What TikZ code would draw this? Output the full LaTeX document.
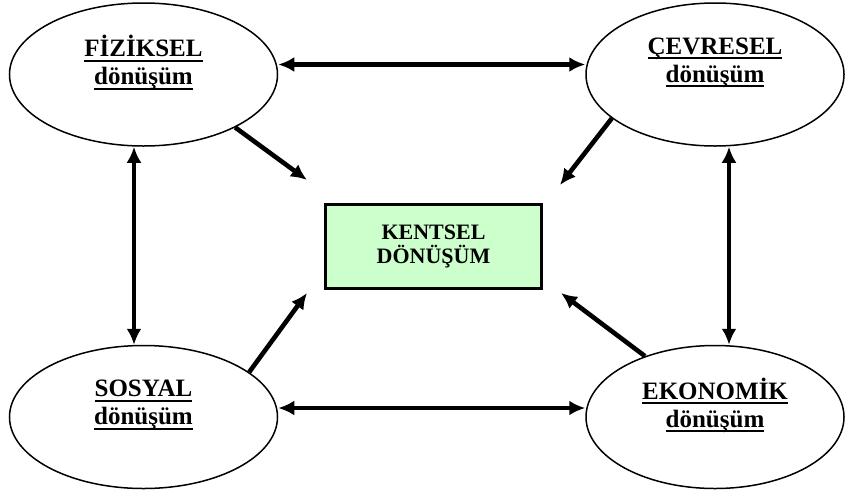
\documentclass[tikz,border=0pt]{standalone}
\usepackage{fontspec}
\setmainfont{Liberation Serif}
\usetikzlibrary{arrows.meta,shapes.geometric,positioning}
\definecolor{kentgreen}{RGB}{204,255,204}
\newcommand{\ulx}[1]{\leavevmode\setbox0\hbox{#1}\dp0=1.5pt\vtop{\box0\kern1.5pt\hrule height 1.8pt}}

\begin{document}
\begin{tikzpicture}[
	x = 1pt, y = -1pt, % pixel like coordinates
	> = {Latex[length=16pt,width=15pt]}, % arrow head style
	arr/.style={line width=4.6pt, <->},
	oneway/.style={line width=4.6pt, ->},
	E/.style={ellipse, draw=black, line width=1.5pt, minimum width=268pt, minimum height=143pt, inner sep=0pt},
	T/.style={font=\bfseries\fontsize{25}{28}\selectfont, align=center, inner sep=0pt},
	K/.style={rectangle, draw=black, line width=3.6pt, fill=kentgreen, minimum width=216pt, minimum height=84pt, font=\bfseries\fontsize{22}{24}\selectfont, align=center},
	]
	\useasboundingbox (0,0) rectangle (845,493);

	% Ellipses for the four kinds of change
	\node[E] (fiz) at (143.5,74.5) {};
	\node[E, minimum width=258pt] (cev) at (715,74.5) {};
	\node[E] (sos) at (143.5,417) {};
	\node[E, minimum width=258pt] (eko) at (715,417) {};

	% Their titles
	\node[T] (fizt) at ([yshift=12pt]fiz.center) {\ulx{FİZİKSEL}\\\ulx{dönüşüm}};
	\node[T] (cevt) at ([yshift=12pt]cev.center) {\ulx{ÇEVRESEL}\\\ulx{dönüşüm}};
	\node[T] (sost) at ([yshift=12pt]sos.center) {\ulx{SOSYAL}\\\ulx{dönüşüm}};
	\node[T] (ekot) at ([yshift=12pt]eko.center) {\ulx{EKONOMİK}\\\ulx{dönüşüm}};

	% Centre box
	\node[K] (kent) at (433.5,246.5) {KENTSEL\\DÖNÜŞÜM};

	% Tips of the arrows towards the box
	\coordinate (fk) at (307,180);
	\coordinate (ck) at (560,185);
	\coordinate (sk) at (307,293);
	\coordinate (ek) at (561,293);

	% Paths connecting nodes
	\draw[arr] ([yshift=10pt]fiz.east) -- ([yshift=10pt]cev.west);
	\draw[arr] ([yshift=9pt]sos.east) -- ([yshift=9pt]eko.west);
	\draw[arr] ([xshift=-9.5pt]fiz.south) -- ([xshift=-9.5pt]sos.north);
	\draw[arr] ([xshift=14pt]cev.south) -- ([xshift=14pt]eko.north);
	\draw[oneway] (fiz.330) -- (fk);
	\draw[oneway] (cev.203) -- (ck);
	\draw[oneway] (sos.23) -- (sk);
	\draw[oneway] (eko.139) -- (ek);
\end{tikzpicture}
\end{document}
